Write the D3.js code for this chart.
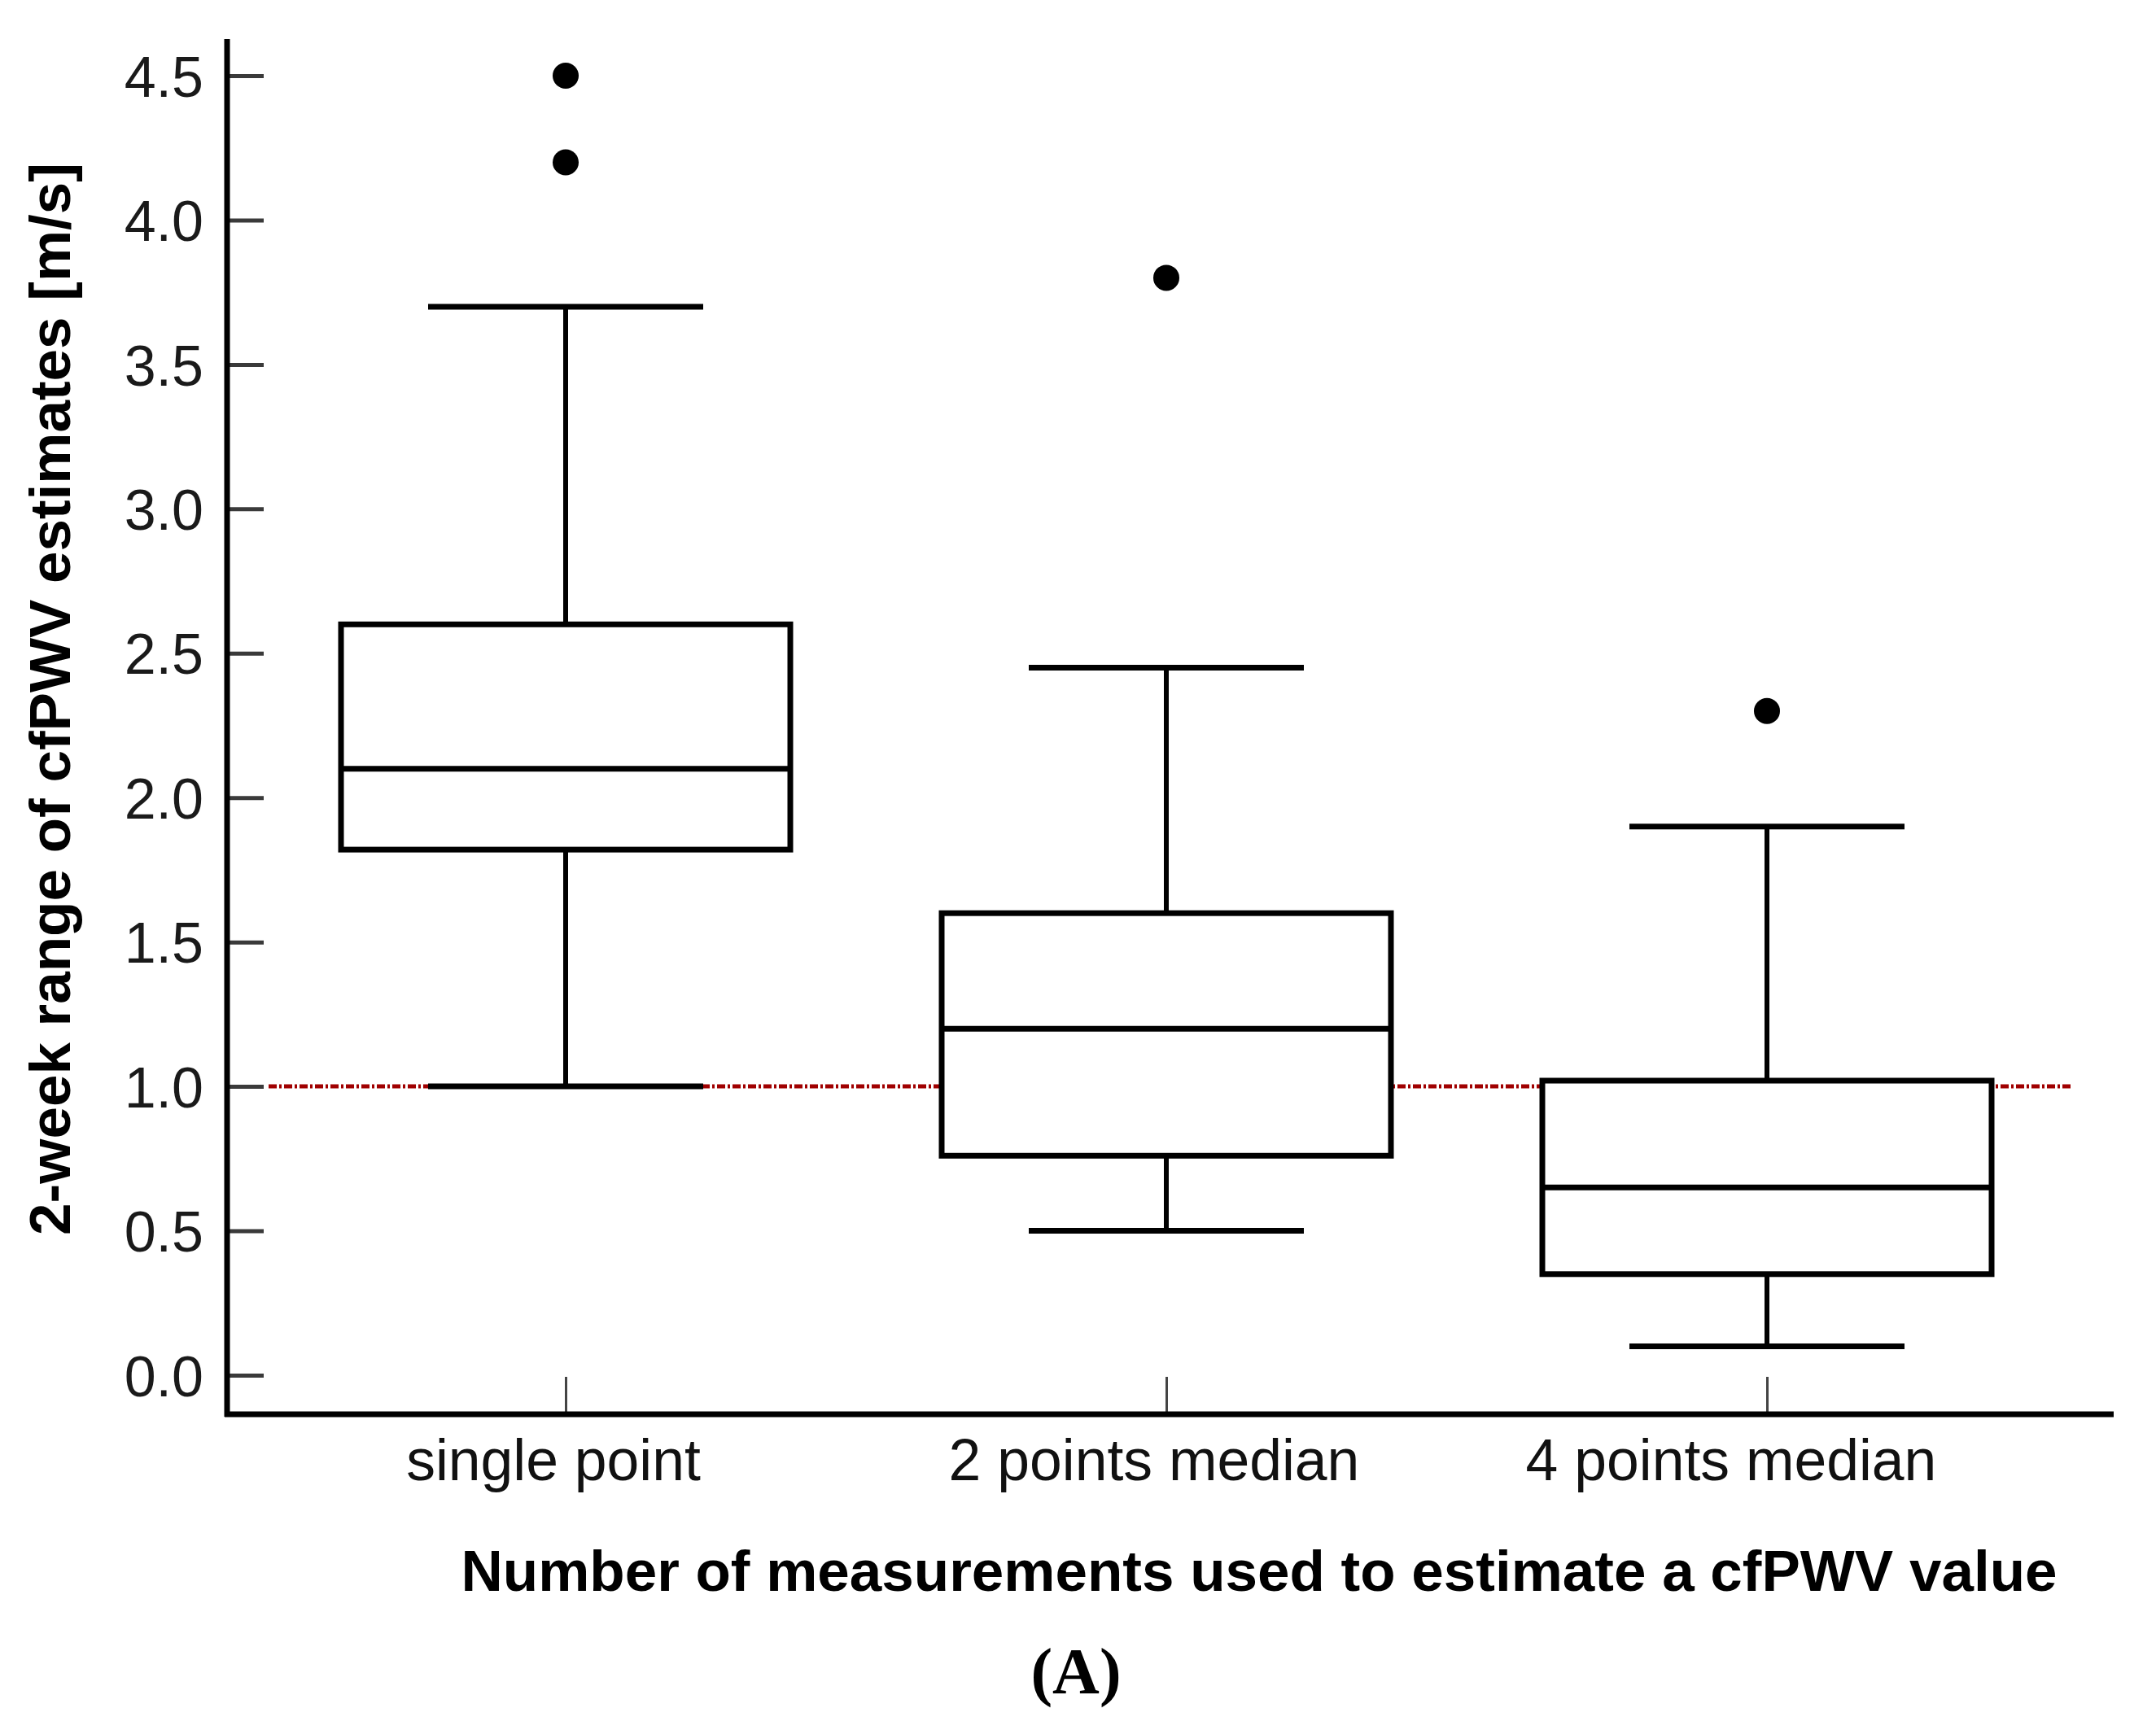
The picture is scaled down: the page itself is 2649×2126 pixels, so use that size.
<!DOCTYPE html>
<html>
<head>
<meta charset="utf-8">
<script src="https://cdn.jsdelivr.net/npm/d3@7.9.0/dist/d3.min.js"></script>
<style>
  html, body { margin: 0; padding: 0; background: #fff; }
  svg { display: block; }
</style>
</head>
<body>
<svg id="chart" width="2649" height="2126"></svg>
<script>
// data
const categories = ["single point", "2 points median", "4 points median"];
const q1 = [1.82, 0.76, 0.35];
const medians = [2.1, 1.2, 0.65];
const q3 = [2.6, 1.6, 1.02];
const whiskerLow = [1.0, 0.5, 0.1];
const whiskerHigh = [3.7, 2.45, 1.9];
const outliers = [[4.5, 4.2], [3.8], [2.3]];
const yTicks = [0, 0.5, 1.0, 1.5, 2.0, 2.5, 3.0, 3.5, 4.0, 4.5];
const labelShift = [-15, -15, -44];
const refValue = 1.0;

const svg = d3.select("#chart");

// scales
const x = d3.scalePoint().domain(categories).range([695, 2171]);
const y = d3.scaleLinear().domain([0, 4.5]).range([1690, 93]);

const axisX = 279;      // y axis position
const axisY = 1738;     // x axis position
const boxHalf = 276;
const capHalf = 169;

// y axis ticks (inward) and labels
const yAxis = d3.axisRight(y)
    .tickValues(yTicks)
    .tickSize(45)
    .tickFormat(d3.format(".1f"));

const gy = svg.append("g")
    .attr("transform", `translate(${axisX},0)`)
    .call(yAxis);
gy.select(".domain").remove();
gy.selectAll(".tick line")
    .attr("stroke", "#3a3a3a")
    .attr("stroke-width", 5);
gy.selectAll(".tick text")
    .attr("x", -29)
    .attr("dy", "0.36em")
    .attr("text-anchor", "end")
    .attr("fill", "#1a1a1a")
    .style("font-family", "'Liberation Sans', Arial, sans-serif")
    .style("font-size", "70px");

// x axis ticks (upward) and category labels
const xAxis = d3.axisTop(x).tickSize(46).tickFormat("");
const gx = svg.append("g")
    .attr("transform", `translate(0,${axisY})`)
    .call(xAxis);
gx.select(".domain").remove();
gx.selectAll(".tick line")
    .attr("stroke", "#444")
    .attr("stroke-width", 3);

svg.append("g")
    .selectAll("text")
    .data(categories)
    .join("text")
    .attr("x", (d, i) => x(d) + labelShift[i])
    .attr("y", 1819)
    .attr("text-anchor", "middle")
    .attr("fill", "#111")
    .style("font-family", "'Liberation Sans', Arial, sans-serif")
    .style("font-size", "71.5px")
    .text(d => d);

// reference line at 1.0 (behind boxes)
svg.append("line")
    .attr("x1", 330).attr("x2", 2546)
    .attr("y1", y(refValue)).attr("y2", y(refValue))
    .attr("stroke", "#a00000")
    .attr("stroke-width", 5)
    .attr("stroke-dasharray", "10,3,3,3");

// boxes
const boxes = svg.append("g")
    .selectAll("g")
    .data(categories)
    .join("g");

// whisker stems
boxes.append("line")
    .attr("x1", d => x(d)).attr("x2", d => x(d))
    .attr("y1", (d, i) => y(whiskerHigh[i]))
    .attr("y2", (d, i) => y(whiskerLow[i]))
    .attr("stroke", "#000")
    .attr("stroke-width", 6);

// caps
[whiskerHigh, whiskerLow].forEach(arr => {
    boxes.append("line")
        .attr("x1", d => x(d) - capHalf).attr("x2", d => x(d) + capHalf)
        .attr("y1", (d, i) => y(arr[i])).attr("y2", (d, i) => y(arr[i]))
        .attr("stroke", "#000")
        .attr("stroke-width", 7);
});

// box rect
boxes.append("rect")
    .attr("x", d => x(d) - boxHalf)
    .attr("width", boxHalf * 2)
    .attr("y", (d, i) => y(q3[i]))
    .attr("height", (d, i) => y(q1[i]) - y(q3[i]))
    .attr("fill", "#fff")
    .attr("stroke", "#000")
    .attr("stroke-width", 7);

// median
boxes.append("line")
    .attr("x1", d => x(d) - boxHalf).attr("x2", d => x(d) + boxHalf)
    .attr("y1", (d, i) => y(medians[i])).attr("y2", (d, i) => y(medians[i]))
    .attr("stroke", "#000")
    .attr("stroke-width", 7);

// outliers
boxes.each(function (d, i) {
    d3.select(this).selectAll("circle")
        .data(outliers[i])
        .join("circle")
        .attr("cx", x(d))
        .attr("cy", v => y(v))
        .attr("r", 16)
        .attr("fill", "#000");
});

// axis lines
svg.append("line")
    .attr("x1", axisX).attr("x2", axisX)
    .attr("y1", 48).attr("y2", axisY + 3)
    .attr("stroke", "#000").attr("stroke-width", 7);
svg.append("line")
    .attr("x1", 276).attr("x2", 2597)
    .attr("y1", axisY).attr("y2", axisY)
    .attr("stroke", "#000").attr("stroke-width", 7);

// axis titles
svg.append("text")
    .attr("x", 1547)
    .attr("y", 1955)
    .attr("text-anchor", "middle")
    .attr("fill", "#000")
    .style("font-family", "'Liberation Sans', Arial, sans-serif")
    .style("font-weight", "bold")
    .style("font-size", "71px")
    .text("Number of measurements used to estimate a cfPWV value");

svg.append("text")
    .attr("transform", "translate(86,859) rotate(-90)")
    .attr("text-anchor", "middle")
    .attr("fill", "#000")
    .style("font-family", "'Liberation Sans', Arial, sans-serif")
    .style("font-weight", "bold")
    .style("font-size", "71px")
    .text("2-week range of cfPWV estimates [m/s]");

// panel label
svg.append("text")
    .attr("x", 1322)
    .attr("y", 2081)
    .attr("text-anchor", "middle")
    .attr("fill", "#000")
    .style("font-family", "'Liberation Serif', 'Times New Roman', serif")
    .style("font-weight", "bold")
    .style("font-size", "80px")
    .text("(A)");
</script>
</body>
</html>
